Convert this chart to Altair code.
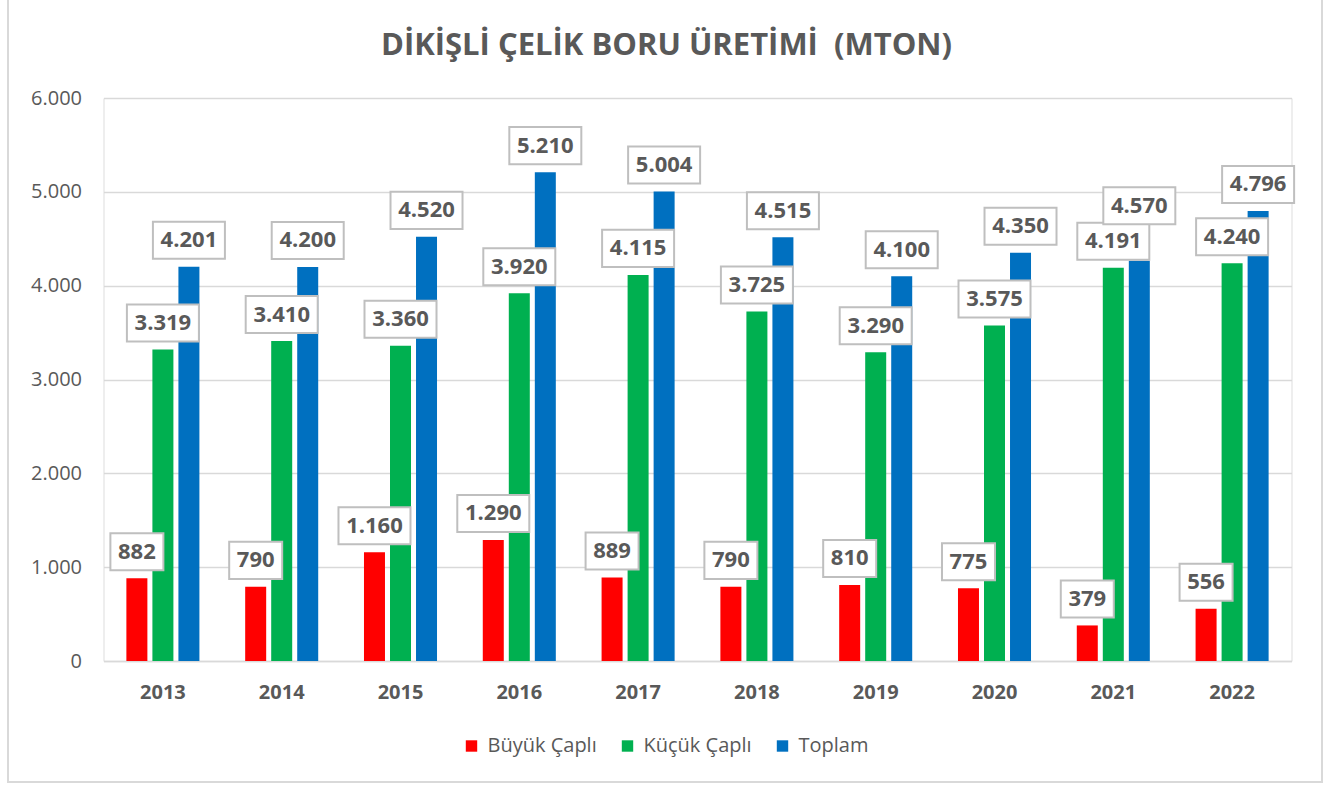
import altair as alt
import pandas as pd

years = ["2013", "2014", "2015", "2016", "2017", "2018", "2019", "2020", "2021", "2022"]
series = ["Büyük Çaplı", "Küçük Çaplı", "Toplam"]
colors = ["#FF0000", "#00B050", "#0070C0"]

buyuk = [882, 790, 1160, 1290, 889, 790, 810, 775, 379, 556]
kucuk = [3319, 3410, 3360, 3920, 4115, 3725, 3290, 3575, 4191, 4240]
# bar heights as drawn
toplam = [4201, 4200, 4520, 5210, 5004, 4515, 4100, 4350, 4265, 4796]
# data label values as printed
toplam_labels = [4201, 4200, 4520, 5210, 5004, 4515, 4100, 4350, 4570, 4796]

y_ticks = [0, 1000, 2000, 3000, 4000, 5000, 6000]

rows = []
for i, y in enumerate(years):
    for s, v, lv in ((series[0], buyuk[i], buyuk[i]),
                     (series[1], kucuk[i], kucuk[i]),
                     (series[2], toplam[i], toplam_labels[i])):
        txt = f"{lv:,}".replace(",", ".")
        rows.append({"Yıl": y, "Seri": s, "Değer": v, "Etiket": lv,
                     "Metin": txt, "Tür": "long" if len(txt) > 3 else "short"})
df = pd.DataFrame(rows)

W, H = 1188, 563
PAD_L, PAD_T = 103.5, 98

x_enc = alt.X("Yıl:N", sort=years,
              scale=alt.Scale(paddingInner=0.343, paddingOuter=0.1715),
              axis=alt.Axis(title=None, labelAngle=0, labelFontSize=20, labelFontWeight="bold",
                            labelColor="#595959", labelFont="Open Sans", labelPadding=21,
                            ticks=False, domainColor="#D9D9D9", domainWidth=1.5, grid=False))
xoff = alt.XOffset("Seri:N", sort=series, scale=alt.Scale(paddingInner=0, paddingOuter=0))

base = alt.Chart(df)

bars = base.mark_bar(width=21).encode(
    x=x_enc,
    xOffset=xoff,
    y=alt.Y("Değer:Q", scale=alt.Scale(domain=[0, 6000], nice=False),
            axis=alt.Axis(title=None, values=y_ticks, labelFontSize=20, labelColor="#595959",
                          labelFont="Open Sans", labelPadding=22, ticks=False, domain=False,
                          gridColor="#D9D9D9", gridWidth=1.5,
                          labelExpr="replace(format(datum.value, ','), /,/g, '.')")),
    color=alt.Color("Seri:N", sort=series, scale=alt.Scale(domain=series, range=colors),
                    legend=alt.Legend(title=None, orient="none", direction="horizontal",
                                      legendX=358, legendY=638, symbolType="square",
                                      symbolSize=130, symbolStrokeWidth=0, labelFontSize=20,
                                      labelColor="#595959", labelFont="Open Sans",
                                      columnPadding=20, labelOffset=6, padding=0)),
)

long_path = "M-1,-0.514L1,-0.514L1,0.514L-1,0.514Z"
short_path = "M-0.736,-0.514L0.736,-0.514L0.736,0.514L-0.736,0.514Z"

layers = [bars]
for s in series:
    sub = base.transform_filter(alt.datum["Seri"] == s)
    box = sub.mark_point(filled=False, fill="white", fillOpacity=1, stroke="#BFBFBF",
                         strokeWidth=2, opacity=1, yOffset=-26.5, size=5184).encode(
        x=alt.X("Yıl:N", sort=years),
        xOffset=xoff,
        y=alt.Y("Etiket:Q"),
        shape=alt.Shape("Tür:N", scale=alt.Scale(domain=["long", "short"],
                                                 range=[long_path, short_path]), legend=None),
    )
    txt = sub.mark_text(font="Open Sans", fontSize=22, fontWeight="bold", color="#595959",
                        baseline="middle", align="center", yOffset=-26.5).encode(
        x=alt.X("Yıl:N", sort=years),
        xOffset=xoff,
        y=alt.Y("Etiket:Q"),
        text="Metin:N",
    )
    layers += [box, txt]

frame = alt.Chart(pd.DataFrame({"a": [0]})).mark_rect(
    fill=None, stroke="#D9D9D9", strokeWidth=2).encode(
    x=alt.value(8 - PAD_L), x2=alt.value(1322 - PAD_L),
    y=alt.value(-102), y2=alt.value(782 - PAD_T))

chart = alt.layer(frame, *layers).properties(
    width=W, height=H,
    title=alt.TitleParams("DİKİŞLİ ÇELİK BORU ÜRETİMİ \u00a0(MTON)", font="Open Sans",
                          fontSize=31, fontWeight="bold", color="#595959",
                          anchor="middle", dx=-31, offset=0, baseline="alphabetic", dy=91),
    autosize=alt.AutoSizeParams(type="none"),
    padding={"left": PAD_L, "top": PAD_T, "right": 1343 - PAD_L - W, "bottom": 787 - PAD_T - H},
).configure_view(stroke=None).configure(background="white")

chart.save("out.html", embed_options={"renderer": "svg", "actions": False})
